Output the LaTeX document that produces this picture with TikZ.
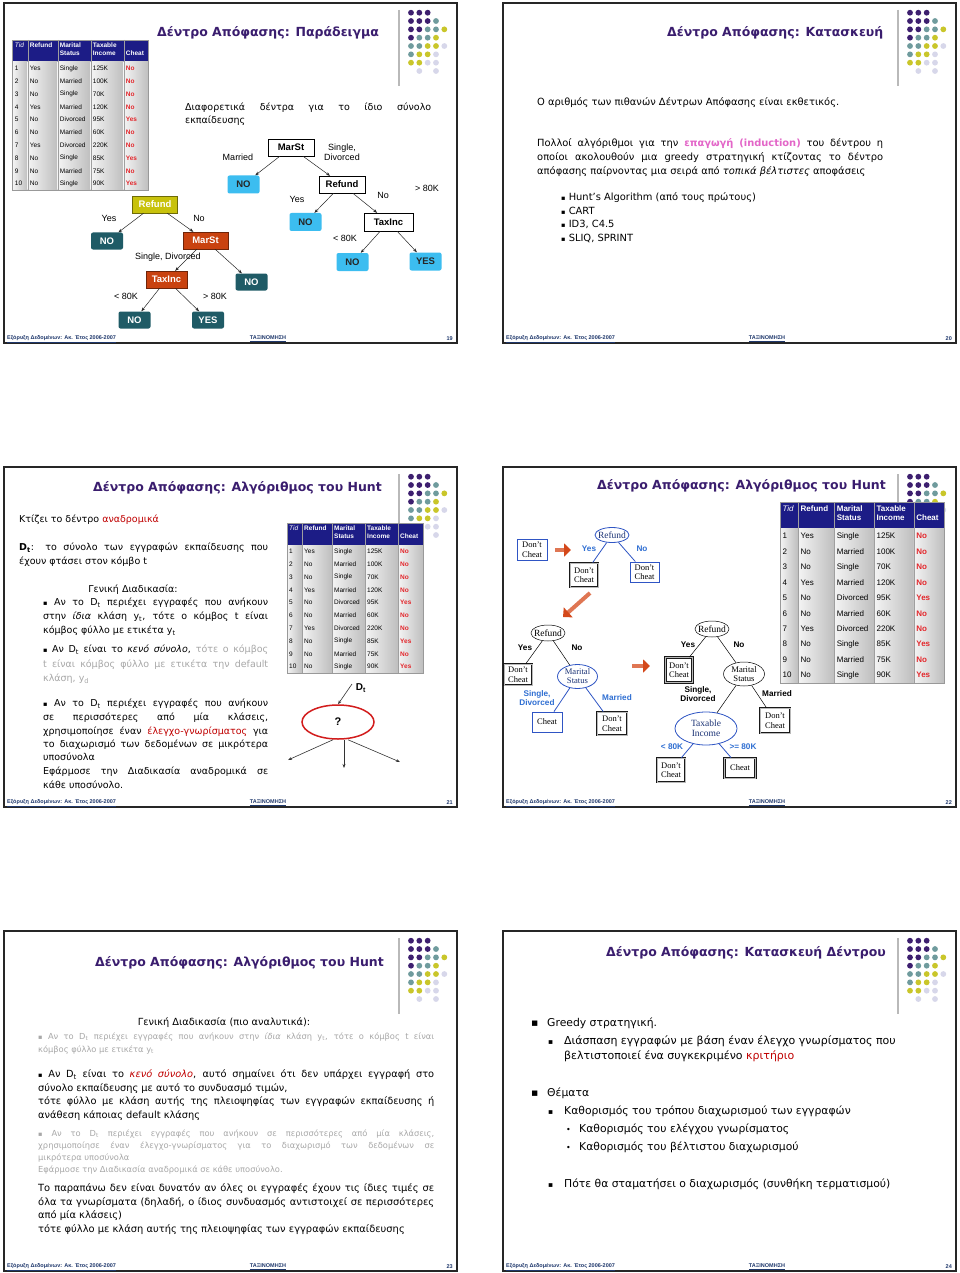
\documentclass[tikz,border=0pt]{standalone}
\usepackage{fontspec}
\usepackage{xcolor}
\usepackage{tikz}
\usetikzlibrary{arrows.meta, shapes.geometric, positioning}
\setmainfont{DejaVu Sans}
\newfontfamily\arialfont{Liberation Sans}
\newfontfamily\timesfont{Liberation Serif}

\definecolor{TitlePurple}{HTML}{3A1D6E}
\definecolor{DotPurple}  {HTML}{3D1F6F}
\definecolor{DotTeal}    {HTML}{6F9B9D}
\definecolor{DotYellow}  {HTML}{C9C62A}
\definecolor{DotLav}     {HTML}{D7D7EA}
\definecolor{TabNavy}    {HTML}{1C1C86}
\definecolor{TabLight}   {HTML}{F4F4F4}
\definecolor{TabDark}    {HTML}{BEBEBE}
\definecolor{CheatRed}   {HTML}{E3262B}
\definecolor{LeafTeal}   {HTML}{1F5B66}
\definecolor{RefYellow}  {HTML}{C8C20C}
\definecolor{SplitRed}   {HTML}{C9420F}
\definecolor{LeafBlue}   {HTML}{3CBDF0}
\definecolor{BoxBlue}    {HTML}{2F55C4}
\definecolor{LabelBlue}  {HTML}{2E6ED2}
\definecolor{ArrOrange}  {HTML}{D4481A}
\definecolor{QRed}       {HTML}{D21C1C}
\definecolor{TextRed}    {HTML}{C00000}
\definecolor{InductPink} {HTML}{E366C8}
\definecolor{GrayText}   {HTML}{A8A8A8}
\definecolor{FootBlue}   {HTML}{1F386C}

\newcommand{\fs}[1]{\fontsize{#1}{#1}\selectfont}
\newcommand{\fsz}[2]{\fontsize{#1}{#2}\selectfont}
\newcommand{\jline}[2]{\hbox to #1{\spaceskip=0.3em plus 3em minus 0.12em\relax #2}}
\newcommand{\redtxt}[1]{\textcolor{TextRed}{#1}}
\newcommand{\dimtext}[1]{\textcolor{GrayText}{#1}}
\newcommand{\tsub}[1]{\textsubscript{#1}}
\newcommand{\bul}{{\fs{6.5}\raisebox{0.4pt}{▪}}}

\tikzset{
  slideedge/.style={draw=black!85, line width=1.3pt, fill=white},
  decoline/.style={draw=gray!55, line width=1.4pt},
  footer/.style={inner sep=0pt, text=FootBlue, font=\arialfont\bfseries\fs{5.5}},
  slidetitle/.style={anchor=west, inner sep=0pt, text=TitlePurple, font=\bfseries\fs{12.5}},
  txt/.style={anchor=west, inner sep=0pt, text height=7pt, text depth=2pt, font=\fs{#1}},
  tabhead/.style={anchor=north west, inner sep=0pt, text=white, align=left},
  tabcell/.style={anchor=west, inner sep=0pt},
  % slide 19 trees
  boxA/.style={inner sep=0pt, text=white, font=\arialfont\bfseries\fs{9.5}, minimum height=17pt},
  refbox/.style={boxA, fill=RefYellow, draw=RefYellow!55!black, minimum width=45pt},
  splitbox/.style={boxA, fill=SplitRed, draw=SplitRed!55!black},
  leafteal/.style={boxA, fill=LeafTeal, rounded corners=2pt, minimum width=32pt},
  splitwhite/.style={inner sep=0pt, draw=black, fill=white, font=\arialfont\bfseries\fs{9.5}, minimum height=17pt},
  leafblue/.style={inner sep=0pt, fill=LeafBlue, rounded corners=2pt, text=black!85, font=\arialfont\bfseries\fs{9.5}, minimum width=32pt, minimum height=18pt},
  edgelbl/.style={inner sep=0pt, font=\arialfont\fsz{9}{10}, align=center},
  treearrow/.style={draw=black!85, line width=0.5pt, -{Stealth[length=4pt, width=3pt]}},
  % slide 22 trees
  hbox/.style={inner sep=0pt, fill=white, font=\timesfont\fsz{8.5}{9.5}, align=center},
  boxblue/.style={hbox, draw=BoxBlue, line width=0.8pt},
  boxthick/.style={hbox, draw=black!90, line width=0.9pt, double=gray!55, double distance=0.8pt},
  ellblue/.style={ellipse, inner sep=-2pt, draw=BoxBlue, line width=0.8pt, fill=white, text=BoxBlue!60!black, font=\timesfont\fsz{9.5}{10}, align=center},
  ellblack/.style={ellipse, inner sep=-2pt, draw=black, line width=0.5pt, fill=white, font=\timesfont\fsz{9.5}{10}, align=center},
  twoline/.style={font=\timesfont\fsz{8.6}{9}, inner sep=-1.5pt},
  lblblue/.style={inner sep=0pt, text=LabelBlue, font=\arialfont\bfseries\fsz{8.2}{9.5}, align=center},
  lblblack/.style={inner sep=0pt, text=black, font=\arialfont\bfseries\fsz{8.2}{9.5}, align=center},
  linkblue/.style={draw=BoxBlue, line width=0.8pt},
  linkblack/.style={draw=black, line width=0.5pt},
  bigarrow/.style={draw=ArrOrange!75, line width=4pt, -{Triangle[length=7pt, width=13pt, color=ArrOrange, fill=ArrOrange]}},
  thinarrow/.style={draw=black!80, line width=0.6pt, -{Stealth[length=4pt, width=3pt]}},
}

% frame, dots and footer of one slide
\newcommand{\slideframe}[3]{%
  \begin{scope}[shift={(#1,#2)}]
    \draw[slideedge] (0,0) rectangle (453,340);
    \draw[decoline] (395,7) -- (395,83);
    \foreach \cx/\cy/\dc in {1/1/DotPurple, 2/1/DotPurple, 3/1/DotPurple,
        1/2/DotPurple, 2/2/DotPurple, 3/2/DotPurple, 4/2/DotTeal,
        1/3/DotPurple, 2/3/DotPurple, 3/3/DotTeal, 4/3/DotTeal, 5/3/DotYellow,
        1/4/DotPurple, 2/4/DotTeal, 3/4/DotTeal, 4/4/DotYellow,
        1/5/DotTeal, 2/5/DotTeal, 3/5/DotYellow, 4/5/DotYellow, 5/5/DotLav,
        1/6/DotTeal, 2/6/DotYellow, 3/6/DotYellow, 4/6/DotLav,
        1/7/DotYellow, 2/7/DotYellow, 3/7/DotLav, 4/7/DotLav,
        2/8/DotLav, 4/8/DotLav}
      \fill[\dc] ({407+(\cx-1)*8.33},{9.7+(\cy-1)*8.33}) circle (2.9pt);
    \node[footer, anchor=west] (foot#3a) at (3,336) {\underline{Εξόρυξη Δεδομένων: Ακ. Έτος 2006-2007}};
    \node[footer] (foot#3b) at (264,336) {\underline{ΤΑΞΙΝΟΜΗΣΗ}};
    \node[footer, anchor=east] (foot#3c) at (449,336) {#3};
  \end{scope}}

% the training table: x, y, scale, font size, line skip, name
\newcommand{\datatable}[6]{%
  \begin{scope}[shift={(#1,#2)}, scale=#3]
    \fill[TabNavy] (0,0) rectangle (136,22);
    \foreach \xa/\xb in {0/15, 15/45, 45/78, 78/111, 111/136}
      \shade[left color=TabLight, right color=TabDark] (\xa,22) rectangle (\xb,150);
    \foreach \xa in {15, 45, 78, 111}
      \draw[gray!75, line width=0.4pt] (\xa,0) -- (\xa,150);
    \draw[gray!80, line width=0.5pt] (0,0) rectangle (136,150);
    \node[tabhead, font=\arialfont\itshape\fsz{#4}{#5}] (#6h1) at (2,2.5) {Tid};
    \node[tabhead, font=\arialfont\bfseries\fsz{#4}{#5}] (#6h2) at (17,2.5) {Refund};
    \node[tabhead, font=\arialfont\bfseries\fsz{#4}{#5}] (#6h3) at (47,2.5) {Marital\\Status};
    \node[tabhead, font=\arialfont\bfseries\fsz{#4}{#5}] (#6h4) at (80,2.5) {Taxable\\Income};
    \node[tabhead, anchor=west, font=\arialfont\bfseries\fsz{#4}{#5}] (#6h5) at (113,13) {Cheat};
    \foreach \tid/\rf/\ms/\ti/\ch [count=\i] in {1/Yes/Single/125K/No, 2/No/Married/100K/No,
        3/No/Single/70K/No, 4/Yes/Married/120K/No, 5/No/Divorced/95K/Yes,
        6/No/Married/60K/No, 7/Yes/Divorced/220K/No, 8/No/Single/85K/Yes,
        9/No/Married/75K/No, 10/No/Single/90K/Yes}{
      \node[tabcell, font=\arialfont\fs{#4}] (#6a\i) at (2,{22+(\i-0.5)*12.8}) {\tid};
      \node[tabcell, font=\arialfont\fs{#4}] (#6b\i) at (17,{22+(\i-0.5)*12.8}) {\rf};
      \node[tabcell, font=\arialfont\fs{#4}] (#6c\i) at (47,{22+(\i-0.5)*12.8}) {\ms};
      \node[tabcell, font=\arialfont\fs{#4}] (#6d\i) at (80,{22+(\i-0.5)*12.8}) {\ti};
      \node[tabcell, text=CheatRed, font=\arialfont\bfseries\fs{#4}] (#6e\i) at (113,{22+(\i-0.5)*12.8}) {\ch};
    }
  \end{scope}}

\begin{document}
\begin{tikzpicture}[x=1pt, y=-1pt]
  \fill[white] (0,0) rectangle (960,1273);
  \useasboundingbox (0,0) rectangle (960,1273);
  \slideframe{4}{3}{19}
  \slideframe{503}{3}{20}
  \slideframe{4}{467}{21}
  \slideframe{503}{467}{22}
  \slideframe{4}{931}{23}
  \slideframe{503}{931}{24}

  % ---- slide 19
  \node[slidetitle] (t19) at (157,33) {Δέντρο Απόφασης: Παράδειγμα};
  \datatable{12.7}{40}{1}{6.5}{8}{tA}
  \node[txt=9.5] (p19a) at (185,108) {\jline{246pt}{Διαφορετικά δέντρα για το ίδιο σύνολο}};
  \node[txt=9.5] (p19b) at (185,121) {εκπαίδευσης};

  \node[refbox] (refA) at (155,204.5) {Refund};
  \node[leafteal] (noA1) at (107,241) {NO};
  \node[splitbox, minimum width=45pt] (marA) at (205.5,240.5) {MarSt};
  \node[splitbox, minimum width=41pt] (taxA) at (166.5,279.5) {TaxInc};
  \node[leafteal] (noA2) at (251.5,282) {NO};
  \node[leafteal] (noA3) at (134.5,320) {NO};
  \node[leafteal] (yesA) at (208,320) {YES};
  \draw[treearrow] (refA) -- (noA1);
  \draw[treearrow] (refA) -- (marA);
  \draw[treearrow] (marA) -- (taxA);
  \draw[treearrow] (marA) -- (noA2);
  \draw[treearrow] (taxA) -- (noA3);
  \draw[treearrow] (taxA) -- (yesA);
  \node[edgelbl] (lA1) at (109,218) {Yes};
  \node[edgelbl] (lA2) at (199,218) {No};
  \node[edgelbl] (lA3) at (168,257) {Single, Divorced};
  \node[edgelbl] (lA4) at (126,296) {< 80K};
  \node[edgelbl] (lA5) at (215,296) {> 80K};

  \node[splitwhite, minimum width=46pt] (marB) at (291,147.5) {MarSt};
  \node[splitwhite, minimum width=46pt] (refB) at (342,184.5) {Refund};
  \node[splitwhite, minimum width=49pt, minimum height=18pt] (taxB) at (388.5,222) {TaxInc};
  \node[leafblue] (noB1) at (243.5,184.5) {NO};
  \node[leafblue] (noB2) at (305.5,222) {NO};
  \node[leafblue] (noB3) at (352.5,262) {NO};
  \node[leafblue] (yesB) at (425.5,261.5) {YES};
  \draw[treearrow] (marB) -- (noB1);
  \draw[treearrow] (marB) -- (refB);
  \draw[treearrow] (refB) -- (noB2);
  \draw[treearrow] (refB) -- (taxB);
  \draw[treearrow] (taxB) -- (noB3);
  \draw[treearrow] (taxB) -- (yesB);
  \node[edgelbl] (lB1) at (238,157) {Married};
  \node[edgelbl] (lB2) at (342,152) {Single,\\Divorced};
  \node[edgelbl] (lB3) at (297,199) {Yes};
  \node[edgelbl] (lB4) at (383,195) {No};
  \node[edgelbl] (lB5) at (427,188) {> 80K};
  \node[edgelbl] (lB6) at (345,238) {< 80K};

  % ---- slide 20
  \node[slidetitle] (t20) at (667,33) {Δέντρο Απόφασης: Κατασκευή};
  \node[txt=9.9] (p20a) at (537,103) {Ο αριθμός των πιθανών Δέντρων Απόφασης είναι εκθετικός.};
  \node[txt=9.9] (p20b) at (537,144) {\jline{346pt}{Πολλοί αλγόριθμοι για την \textcolor{InductPink}{\textbf{επαγωγή (induction)}} του δέντρου η}};
  \node[txt=9.9] (p20c) at (537,158) {\jline{346pt}{οποίοι ακολουθούν μια greedy στρατηγική κτίζοντας το δέντρο}};
  \node[txt=9.9] (p20d) at (537,172) {απόφασης παίρνοντας μια σειρά από \textit{τοπικά βέλτιστες} αποφάσεις};
  \node[txt=9.9] (p20e) at (561,198) {\bul\ Hunt’s Algorithm (από τους πρώτους)};
  \node[txt=9.9] (p20f) at (561,212) {\bul\ CART};
  \node[txt=9.9] (p20g) at (561,225) {\bul\ ID3, C4.5};
  \node[txt=9.9] (p20h) at (561,239) {\bul\ SLIQ, SPRINT};

  % ---- slide 21
  \node[slidetitle] (t21) at (93,488) {Δέντρο Απόφασης: Αλγόριθμος του Hunt};
  \datatable{287}{523}{1}{6.5}{8}{tB}
  \node[txt=9.5] (s3l1) at (19,520) {Κτίζει το δέντρο \redtxt{αναδρομικά}};
  \node[txt=9.5] (s3l2) at (19,548) {\jline{249pt}{\textbf{D\tsub{t}}: το σύνολο των εγγραφών εκπαίδευσης που}};
  \node[txt=9.5] (s3l3) at (19,562) {έχουν φτάσει στον κόμβο t};
  \node[txt=9.5, anchor=center] (s3l4) at (133,590) {Γενική Διαδικασία:};
  \node[txt=9.5] (s3l5) at (43,603) {\jline{225pt}{\bul\ Αν το D\tsub{t} περιέχει εγγραφές που ανήκουν}};
  \node[txt=9.5] (s3l6) at (43,617) {\jline{225pt}{στην \textit{ίδια} κλάση y\tsub{t}, τότε ο κόμβος t είναι}};
  \node[txt=9.5] (s3l7) at (43,631) {κόμβος φύλλο με ετικέτα y\tsub{t}};
  \node[txt=9.5] (s3l8) at (43,650) {\jline{225pt}{\bul\ Αν D\tsub{t} είναι το \textit{κενό σύνολο}, \dimtext{τότε ο κόμβος}}};
  \node[txt=9.5, text=GrayText] (s3l9) at (43,665) {\jline{225pt}{t είναι κόμβος φύλλο με ετικέτα την default}};
  \node[txt=9.5, text=GrayText] (s3l10) at (43,679) {κλάση, y\tsub{d}};
  \node[txt=9.5] (s3l11) at (43,704) {\jline{225pt}{\bul\ Αν το D\tsub{t} περιέχει εγγραφές που ανήκουν}};
  \node[txt=9.5] (s3l12) at (43,718) {\jline{225pt}{σε περισσότερες από μία κλάσεις,}};
  \node[txt=9.5] (s3l13) at (43,732) {\jline{225pt}{χρησιμοποίησε έναν \redtxt{έλεγχο-γνωρίσματος} για}};
  \node[txt=9.5] (s3l14) at (43,745) {\jline{225pt}{το διαχωρισμό των δεδομένων σε μικρότερα}};
  \node[txt=9.5] (s3l15) at (43,758) {υποσύνολα};
  \node[txt=9.5] (s3l16) at (43,772) {\jline{225pt}{Εφάρμοσε την Διαδικασία αναδρομικά σε}};
  \node[txt=9.5] (s3l17) at (43,786) {κάθε υποσύνολο.};

  \node[ellipse, draw=QRed, line width=1.5pt, minimum width=72pt, minimum height=34pt, inner sep=0pt, font=\arialfont\bfseries\fs{11}] (qNode) at (338,722) {?};
  \node[inner sep=0pt, font=\arialfont\bfseries\fs{10}] (dtLbl) at (361,688) {D\tsub{t}};
  \coordinate (dtTail) at (352,684);
  \coordinate (outL) at (288,760);
  \coordinate (outM) at (344,768);
  \coordinate (outR) at (400,762);
  \draw[thinarrow] (dtTail) -- (qNode.north);
  \draw[thinarrow] ([xshift=-5pt]qNode.south) -- (outL);
  \draw[thinarrow] ([xshift=6pt]qNode.south) -- (outM);
  \draw[thinarrow] ([xshift=10pt]qNode.south) -- (outR);

  % ---- slide 22
  \node[slidetitle] (t22) at (597,486) {Δέντρο Απόφασης: Αλγόριθμος του Hunt};
  \datatable{780}{502}{1.205}{8}{9.5}{tC}
  % step 1
  \node[boxblue, minimum width=30pt, minimum height=21pt] (s1leaf) at (532,549.5) {Don’t\\Cheat};
  \coordinate (a1s) at (555,550);
  \coordinate (a1e) at (571,550);
  \draw[bigarrow] (a1s) -- (a1e);
  \node[ellblue, minimum width=34pt, minimum height=15pt] (s1ref) at (612,535) {Refund};
  \node[boxthick, minimum width=28pt, minimum height=24pt] (s1dcL) at (584,575) {Don’t\\Cheat};
  \node[boxblue, minimum width=29pt, minimum height=20pt] (s1dcR) at (644.5,572) {Don’t\\Cheat};
  \draw[linkblue] (s1ref) -- (s1dcL);
  \draw[linkblue] (s1ref) -- (s1dcR);
  \node[lblblue] (s1yes) at (589,549) {Yes};
  \node[lblblue] (s1no) at (642,549) {No};
  % step 2
  \coordinate (a2s) at (590,593);
  \coordinate (a2e) at (563,617);
  \draw[bigarrow] (a2s) -- (a2e);
  \node[ellblack, minimum width=34pt, minimum height=16pt] (s2ref) at (548,633) {Refund};
  \node[boxthick, minimum width=28pt, minimum height=21pt] (s2dc) at (518,674.5) {Don’t\\Cheat};
  \node[ellblue, twoline, minimum width=40pt, minimum height=24pt] (s2mar) at (577.5,676.5) {Marital\\Status};
  \node[boxblue, minimum width=30pt, minimum height=20pt] (s2ch) at (547,722) {Cheat};
  \node[boxthick, minimum width=30pt, minimum height=23pt] (s2dc2) at (612,723.5) {Don’t\\Cheat};
  \draw[linkblack] (s2ref) -- (s2dc);
  \draw[linkblack] (s2ref) -- (s2mar);
  \draw[linkblue] (s2mar) -- (s2ch);
  \draw[linkblue] (s2mar) -- (s2dc2);
  \node[lblblack] (s2yes) at (525,648) {Yes};
  \node[lblblack] (s2no) at (577,648) {No};
  \node[lblblue] (s2sd) at (537,698) {Single,\\Divorced};
  \node[lblblue] (s2mr) at (617,698) {Married};
  % step 3
  \coordinate (a3s) at (632,666);
  \coordinate (a3e) at (650,666);
  \draw[bigarrow] (a3s) -- (a3e);
  \node[ellblack, minimum width=34pt, minimum height=16pt] (s3ref) at (712,629) {Refund};
  \node[boxthick, minimum width=27pt, minimum height=25pt] (s3dc) at (679,670) {Don’t\\Cheat};
  \node[ellblack, twoline, minimum width=41pt, minimum height=24pt] (s3mar) at (744,674) {Marital\\Status};
  \node[ellblue, minimum width=62pt, minimum height=33pt] (s3tax) at (706,728.5) {Taxable\\Income};
  \node[boxthick, minimum width=30pt, minimum height=25pt] (s3dc2) at (775,720.5) {Don’t\\Cheat};
  \node[boxthick, minimum width=28pt, minimum height=24pt] (s3dc3) at (671,770) {Don’t\\Cheat};
  \node[boxthick, minimum width=31pt, minimum height=20pt] (s3ch) at (740,768) {Cheat};
  \draw[linkblack] (s3ref) -- (s3dc);
  \draw[linkblack] (s3ref) -- (s3mar);
  \draw[linkblack] (s3mar) -- (s3tax);
  \draw[linkblack] (s3mar) -- (s3dc2);
  \draw[linkblue] (s3tax) -- (s3dc3);
  \draw[linkblue] (s3tax) -- (s3ch);
  \node[lblblack] (s3yes) at (688,645) {Yes};
  \node[lblblack] (s3no) at (739,645) {No};
  \node[lblblack] (s3sd) at (698,694) {Single,\\Divorced};
  \node[lblblack] (s3mr) at (777,694) {Married};
  \node[lblblue] (s3lt) at (672,747) {< 80K};
  \node[lblblue] (s3ge) at (743,747) {>= 80K};

  % ---- slide 23
  \node[slidetitle] (t23) at (95,963) {Δέντρο Απόφασης: Αλγόριθμος του Hunt};
  \node[txt=9.8, anchor=center] (s5l0) at (224,1023) {Γενική Διαδικασία (πιο αναλυτικά):};
  \node[txt=8.3, text=GrayText] (s5l1) at (38,1037) {\jline{396pt}{\bul\ Αν το D\tsub{t} περιέχει εγγραφές που ανήκουν στην \textit{ίδια} κλάση y\tsub{t}, τότε ο κόμβος t είναι}};
  \node[txt=8.3, text=GrayText] (s5l2) at (38,1050) {κόμβος φύλλο με ετικέτα y\tsub{t}};
  \node[txt=9.8] (s5l3) at (38,1075) {\jline{396pt}{\bul\ Αν D\tsub{t} είναι το \redtxt{\textit{κενό σύνολο}}, αυτό σημαίνει ότι δεν υπάρχει εγγραφή στο}};
  \node[txt=9.8] (s5l4) at (38,1089) {σύνολο εκπαίδευσης με αυτό το συνδυασμό τιμών,};
  \node[txt=9.8] (s5l5) at (38,1102) {\jline{396pt}{τότε φύλλο με κλάση αυτής της πλειοψηφίας των εγγραφών εκπαίδευσης ή}};
  \node[txt=9.8] (s5l6) at (38,1116) {ανάθεση κάποιας default κλάσης};
  \node[txt=8.3, text=GrayText] (s5l7) at (38,1134) {\jline{396pt}{\bul\ Αν το D\tsub{t} περιέχει εγγραφές που ανήκουν σε περισσότερες από μία κλάσεις,}};
  \node[txt=8.3, text=GrayText] (s5l8) at (38,1146) {\jline{396pt}{χρησιμοποίησε έναν έλεγχο-γνωρίσματος για το διαχωρισμό των δεδομένων σε}};
  \node[txt=8.3, text=GrayText] (s5l9) at (38,1158) {μικρότερα υποσύνολα};
  \node[txt=8.3, text=GrayText] (s5l10) at (38,1170) {Εφάρμοσε την Διαδικασία αναδρομικά σε κάθε υποσύνολο.};
  \node[txt=9.9] (s5l11) at (38,1189) {\jline{396pt}{Το παραπάνω δεν είναι δυνατόν αν όλες οι εγγραφές έχουν τις ίδιες τιμές σε}};
  \node[txt=9.9] (s5l12) at (38,1203) {\jline{396pt}{όλα τα γνωρίσματα (δηλαδή, ο ίδιος συνδυασμός αντιστοιχεί σε περισσότερες}};
  \node[txt=9.9] (s5l13) at (38,1216) {από μία κλάσεις)};
  \node[txt=9.9] (s5l14) at (38,1230) {τότε φύλλο με κλάση αυτής της πλειοψηφίας των εγγραφών εκπαίδευσης};

  % ---- slide 24
  \node[slidetitle] (t24) at (606,953) {Δέντρο Απόφασης: Κατασκευή Δέντρου};
  \node[txt=10.8] (s6b1) at (531,1024) {▪};
  \node[txt=10.8] (s6l1) at (547,1024) {Greedy στρατηγική.};
  \node[txt=7.5] (s6b2) at (548,1042) {▪};
  \node[txt=11] (s6l2) at (564,1042) {Διάσπαση εγγραφών με βάση έναν έλεγχο γνωρίσματος που};
  \node[txt=11] (s6l3) at (564,1057) {βελτιστοποιεί ένα συγκεκριμένο \redtxt{κριτήριο}};
  \node[txt=10.8] (s6b3) at (531,1094) {▪};
  \node[txt=10.8] (s6l4) at (547,1094) {Θέματα};
  \node[txt=7.5] (s6b4) at (548,1112) {▪};
  \node[txt=10.8] (s6l5) at (564,1112) {Καθορισμός του τρόπου διαχωρισμού των εγγραφών};
  \node[txt=8] (s6b5) at (566,1130) {•};
  \node[txt=10.8] (s6l6) at (579,1130) {Καθορισμός του ελέγχου γνωρίσματος};
  \node[txt=8] (s6b6) at (566,1148) {•};
  \node[txt=10.8] (s6l7) at (579,1148) {Καθορισμός του βέλτιστου διαχωρισμού};
  \node[txt=7.5] (s6b7) at (548,1185) {▪};
  \node[txt=10.8] (s6l8) at (564,1185) {Πότε θα σταματήσει ο διαχωρισμός (συνθήκη τερματισμού)};
\end{tikzpicture}
\end{document}
